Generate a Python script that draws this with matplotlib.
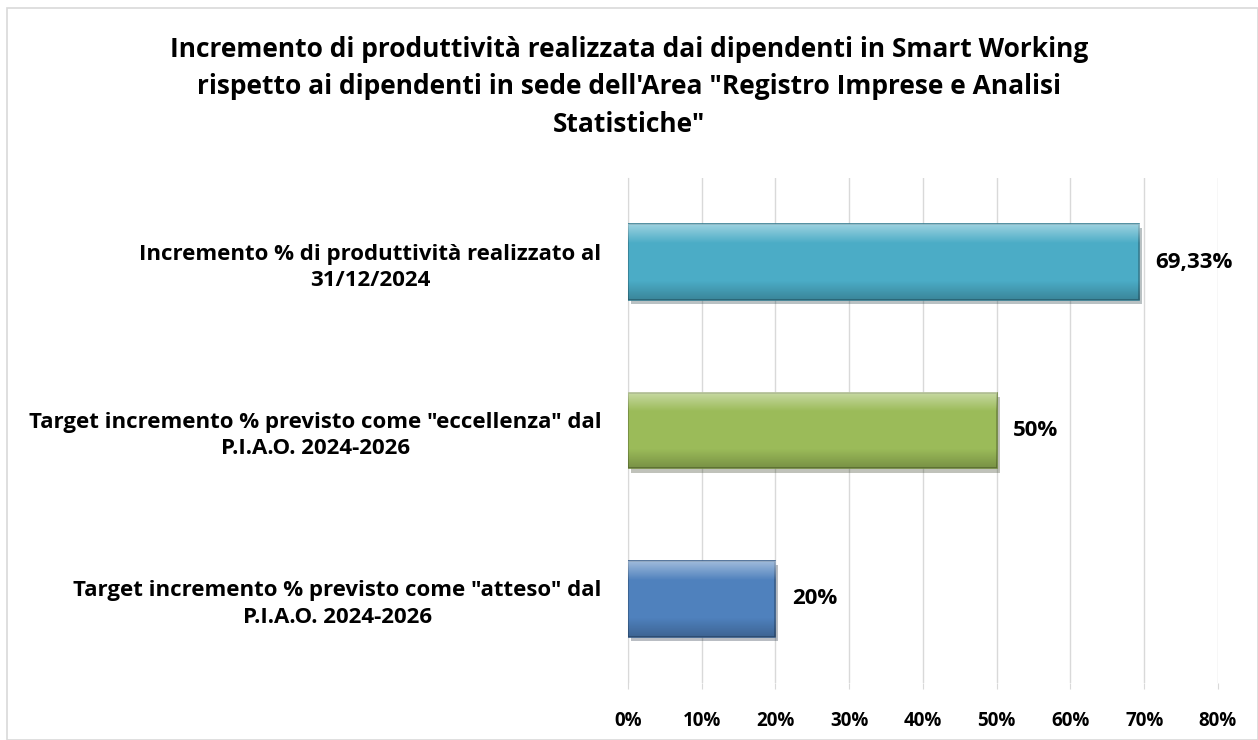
import matplotlib
matplotlib.use("Agg")
import matplotlib.pyplot as plt
import matplotlib.patheffects as pe
from matplotlib.patches import Rectangle
from matplotlib.colors import LinearSegmentedColormap
import numpy as np

plt.rcParams['font.family'] = ['Open Sans', 'DejaVu Sans']
plt.rcParams['font.weight'] = 'bold'

# data (bottom to top as drawn)
categories = [
    'Target incremento % previsto come "atteso" dal\nP.I.A.O. 2024-2026',
    'Target incremento % previsto come "eccellenza" dal\nP.I.A.O. 2024-2026',
    'Incremento % di produttività realizzato al\n31/12/2024',
]
values = [20, 50, 69.33]
value_labels = ['20%', '50%', '69,33%']
bar_colors = ['#4F81BD', '#9BBB59', '#4BACC6']
edge_colors = ['#385D8A', '#71893F', '#357D91']

title = ('Incremento di produttività realizzata dai dipendenti in Smart Working\n'
         'rispetto ai dipendenti in sede dell\'Area "Registro Imprese e Analisi\n'
         'Statistiche"')

fig = plt.figure(figsize=(12.58, 7.4), dpi=100)
ax = fig.add_axes([0.4992, 0.077, 0.469, 0.6825])

y = np.arange(len(categories))
bars = ax.barh(y, values, height=0.45, color=bar_colors, edgecolor=edge_colors,
               linewidth=1.2, zorder=3,
               path_effects=[pe.SimplePatchShadow(offset=(2, -3), alpha=0.3), pe.Normal()])

# bevel look: lighter towards the top edge, darker towards the bottom edge
bevel = LinearSegmentedColormap.from_list(
    'bevel', [(0, 0, 0, 0.22), (0, 0, 0, 0.0), (1, 1, 1, 0.0), (1, 1, 1, 0.0), (1, 1, 1, 0.45)])
for b in bars:
    x0, y0, w, h = b.get_x(), b.get_y(), b.get_width(), b.get_height()
    grad = np.linspace(0, 1, 100).reshape(-1, 1)
    ax.imshow(grad, extent=(x0, x0 + w, y0, y0 + h), aspect='auto', origin='lower',
              cmap=bevel, zorder=4, clip_path=b, interpolation='bilinear')
ax.set_aspect('auto')

for v, lab, yy in zip(values, value_labels, y):
    ax.text(v + 2.2, yy, lab, va='center', ha='left', fontsize=16, fontweight='bold')

ax.set_xlim(0, 80)
ax.set_ylim(-0.5, len(categories) - 0.5)
ax.set_xticks(range(0, 81, 10))
ax.set_xticklabels([f'{t}%' for t in range(0, 81, 10)], fontsize=13.5, fontweight='bold')
ax.set_yticks(y)
ax.set_yticklabels(categories, fontsize=16, fontweight='bold', multialignment='center',
                   linespacing=1.34)
ax.tick_params(axis='y', length=0, pad=19)
ax.tick_params(axis='x', length=4, color='#D9D9D9', pad=16)
ax.grid(axis='x', color='#D9D9D9', linewidth=1, zorder=0)
for s in ['top', 'right', 'bottom']:
    ax.spines[s].set_visible(False)
ax.spines['left'].set_color('#D9D9D9')

fig.text(0.5, 0.952, title, ha='center', va='top', fontsize=19, fontweight='bold',
         linespacing=1.52)

fig.patches.append(Rectangle((7 / 1258, 0), 1 - 7 / 1258, 1 - 8 / 740, transform=fig.transFigure,
                             fill=False, edgecolor='#D9D9D9', linewidth=1.2))

fig.savefig('out.png', dpi=100)
